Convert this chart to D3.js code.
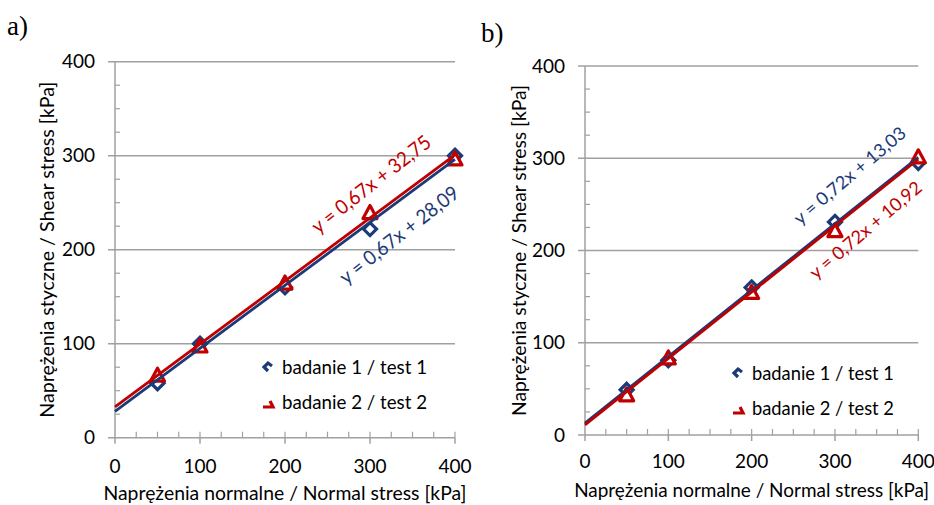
<!DOCTYPE html>
<html>
<head>
<meta charset="utf-8">
<script src="https://cdn.jsdelivr.net/npm/d3@7"></script>
<style>
  body { margin: 0; background: #fff; }
  svg { display: block; }
  text { font-family: Lato, "Open Sans", sans-serif; fill: #000; }
</style>
</head>
<body>
<svg id="chart" width="934" height="505"></svg>
<script>
// Data
const normalStress = [50, 100, 200, 300, 400];

const shearA1 = [58, 100, 160, 222, 300];
const shearA2 = [66, 97, 164, 239, 296];
const shearB1 = [49, 81, 160, 231, 295];
const shearB2 = [43, 83, 154, 221, 301];

const fitA1 = {slope: 0.67, intercept: 28.09, label: 'y = 0,67x + 28,09', at: [335, 215]};
const fitA2 = {slope: 0.67, intercept: 32.75, label: 'y = 0,67x + 32,75', at: [302, 269]};
const fitB1 = {slope: 0.72, intercept: 13.03, label: 'y = 0,72x + 13,03', at: [318, 281]};
const fitB2 = {slope: 0.72, intercept: 10.92, label: 'y = 0,72x + 10,92', at: [337, 222]};

const majorTicks = [0, 100, 200, 300, 400];
const minorTicks = d3.range(0, 401, 25);

const legendLabels = ['badanie 1 / test 1', 'badanie 2 / test 2'];
const xTitle = 'Naprężenia normalne / Normal stress [kPa]';
const yTitle = 'Naprężenia styczne / Shear stress [kPa]';

const BLUE = '#1b3a78';
const RED = '#c00000';
const GRID = '#a0a0a0';

const svg = d3.select('#chart');

function fitText(sel, len) {
    sel.attr('textLength', len).attr('lengthAdjust', 'spacingAndGlyphs');
}

function drawPanel(p) {
    const x = d3.scaleLinear().domain([0, 400]).range(p.xr);
    const y = d3.scaleLinear().domain([0, 400]).range(p.yr);
    const g = svg.append('g');

    // Gridlines (major), extending outward as ticks
    g.selectAll('.grid')
        .data(majorTicks)
        .enter()
        .append('line')
        .attr('x1', p.xr[0] - 7)
        .attr('x2', p.xr[1])
        .attr('y1', d => y(d))
        .attr('y2', d => y(d))
        .attr('stroke', GRID)
        .attr('stroke-width', 1.5);

    // Y axis line + minor ticks
    g.append('line')
        .attr('x1', x(0)).attr('x2', x(0))
        .attr('y1', y(0)).attr('y2', y(400))
        .attr('stroke', GRID).attr('stroke-width', 1.5);
    g.selectAll('.ymin')
        .data(minorTicks.filter(d => d % 100 !== 0))
        .enter()
        .append('line')
        .attr('x1', x(0)).attr('x2', x(0) + 5)
        .attr('y1', d => y(d)).attr('y2', d => y(d))
        .attr('stroke', GRID).attr('stroke-width', 1.2);

    // X axis ticks
    g.selectAll('.xmaj')
        .data(majorTicks)
        .enter()
        .append('line')
        .attr('x1', d => x(d)).attr('x2', d => x(d))
        .attr('y1', y(0)).attr('y2', y(0) + 6)
        .attr('stroke', GRID).attr('stroke-width', 1.5);
    g.selectAll('.xmin')
        .data(minorTicks.filter(d => d !== 0))
        .enter()
        .append('line')
        .attr('x1', d => x(d)).attr('x2', d => x(d))
        .attr('y1', y(0)).attr('y2', y(0) - 6)
        .attr('stroke', GRID).attr('stroke-width', 1.2);

    // Tick labels
    g.selectAll('.ylab')
        .data(majorTicks)
        .enter()
        .append('text')
        .attr('x', x(0) - 20)
        .attr('y', d => y(d) + 6.5)
        .attr('text-anchor', 'end')
        .attr('font-size', 19)
        .text(d => d);
    g.selectAll('.xlab')
        .data(majorTicks)
        .enter()
        .append('text')
        .attr('x', d => x(d))
        .attr('y', y(0) + p.xlabDy)
        .attr('text-anchor', 'middle')
        .attr('font-size', 19)
        .text(d => d);

    // Axis titles
    g.append('text')
        .attr('x', (p.xr[0] + p.xr[1]) / 2)
        .attr('y', y(0) + p.xTitleDy)
        .attr('text-anchor', 'middle')
        .attr('font-size', 19)
        .text(xTitle)
        .call(fitText, p.xTitleLen);
    const yc = (p.yr[0] + p.yr[1]) / 2;
    g.append('text')
        .attr('transform', `translate(${p.yTitleX},${yc}) rotate(-90)`)
        .attr('text-anchor', 'middle')
        .attr('dy', 7)
        .attr('font-size', 19)
        .text(yTitle)
        .call(fitText, p.yTitleLen);

    // Markers
    const diamond = (cx, cy) => `M${cx},${cy - 6.5}L${cx + 6.5},${cy}L${cx},${cy + 6.5}L${cx - 6.5},${cy}Z`;
    const triangle = (cx, cy) => `M${cx},${cy - 7.5}L${cx + 7},${cy + 5.5}L${cx - 7},${cy + 5.5}Z`;

    g.selectAll('.m1')
        .data(normalStress.map((d, i) => [d, p.s1[i]]))
        .enter()
        .append('path')
        .attr('d', d => diamond(x(d[0]), y(d[1])))
        .attr('fill', '#fff')
        .attr('stroke', BLUE)
        .attr('stroke-width', 3.2);
    g.selectAll('.m2')
        .data(normalStress.map((d, i) => [d, p.s2[i]]))
        .enter()
        .append('path')
        .attr('d', d => triangle(x(d[0]), y(d[1])))
        .attr('fill', '#fff')
        .attr('stroke', RED)
        .attr('stroke-width', 3.2)
        .attr('stroke-linejoin', 'round');

    // Trendlines
    const line = d3.line().x(d => x(d[0])).y(d => y(d[1]));
    [[p.f1, BLUE], [p.f2, RED]].forEach(([f, c]) => {
        const pts = [0, 400].map(v => [v, f.slope * v + f.intercept]);
        g.append('path')
            .attr('d', line(pts))
            .attr('stroke', c)
            .attr('stroke-width', 2.8)
            .attr('fill', 'none');

        const kx = (p.xr[1] - p.xr[0]) / 400;
        const ky = (p.yr[0] - p.yr[1]) / 400;
        const angle = -Math.atan(f.slope * ky / kx) * 180 / Math.PI - 1.5;
        g.append('text')
            .attr('transform', `translate(${x(f.at[0])},${y(f.at[1])}) rotate(${angle})`)
            .attr('text-anchor', 'middle')
            .attr('dy', 6)
            .attr('font-size', p.fitSize)
            .style('fill', c)
            .text(f.label)
            .call(fitText, p.fitLen);
    });

    // Legend
    const lg = g.append('g').attr('transform', `translate(${p.legend[0]},${p.legend[1]})`);
    lg.append('path')
        .attr('d', 'M-2,4L-6,0L-2,-4L2,-1')
        .attr('fill', 'none')
        .attr('stroke', BLUE)
        .attr('stroke-width', 3.2);
    lg.append('path')
        .attr('d', 'M-7,40L3,40L0,34')
        .attr('fill', 'none')
        .attr('stroke', RED)
        .attr('stroke-width', 3.2);
    lg.selectAll('.lt')
        .data(legendLabels)
        .enter()
        .append('text')
        .attr('x', 12)
        .attr('y', (d, i) => i * 35 + 7)
        .attr('font-size', 20)
        .text(d => d)
        .call(fitText, p.legendLen);

    // Panel letter
    svg.append('text')
        .attr('x', p.letter[0])
        .attr('y', p.letter[1])
        .style('font-family', '"Liberation Serif", serif')
        .attr('font-size', 27)
        .text(p.name);
}

drawPanel({
    name: 'a)', letter: [7, 35],
    xr: [115, 455], yr: [437.7, 61.7],
    s1: shearA1, s2: shearA2, f1: fitA1, f2: fitA2,
    xlabDy: 35, xTitleDy: 62, xTitleLen: 363, yTitleX: 47, yTitleLen: 336,
    legend: [270, 367], legendLen: 145, fitLen: 145, fitSize: 20
});

drawPanel({
    name: 'b)', letter: [481, 42],
    xr: [585, 918.3], yr: [435, 66],
    s1: shearB1, s2: shearB2, f1: fitB1, f2: fitB2,
    xlabDy: 33, xTitleDy: 62, xTitleLen: 355, yTitleX: 519, yTitleLen: 331,
    legend: [740, 373], legendLen: 142, fitLen: 140, fitSize: 18
});
</script>
</body>
</html>
